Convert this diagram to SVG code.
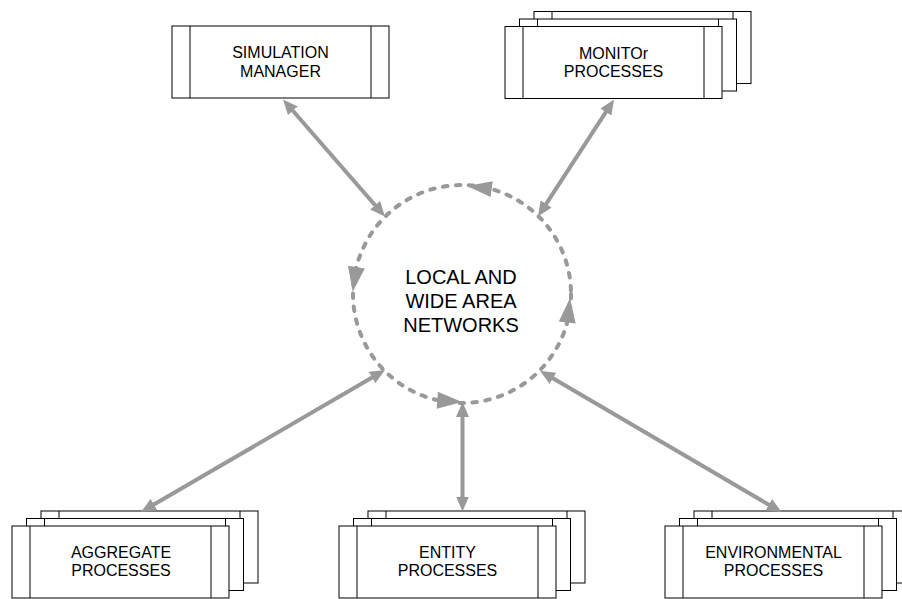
<svg xmlns="http://www.w3.org/2000/svg" width="902" height="599" viewBox="0 0 902 599">
<defs>
<style>
.box{fill:#fff;stroke:#000;stroke-width:1}
.div{stroke:#000;stroke-width:1}
.lbl{font-family:"Liberation Sans",Arial,sans-serif;font-size:16px;fill:#000;text-anchor:middle}
.ctr{font-family:"Liberation Sans",Arial,sans-serif;font-size:20px;fill:#000;text-anchor:middle}
.con{stroke:#999;stroke-width:4;fill:none;marker-start:url(#ah);marker-end:url(#ah)}
.ring{fill:none;stroke:#999;stroke-width:4;stroke-dasharray:4.5 8.5;stroke-linecap:round}
.rh{fill:#999}
</style>
<marker id="ah" markerUnits="userSpaceOnUse" viewBox="0 0 15 13" markerWidth="15" markerHeight="13" refX="5" refY="6.5" orient="auto-start-reverse">
<path d="M0,0 L15,6.5 L0,13 z" fill="#999"/>
</marker>
<g id="card">
<rect class="box" x="0" y="0" width="217" height="72"/>
<line class="div" x1="18" y1="0" x2="18" y2="72"/>
<line class="div" x1="199" y1="0" x2="199" y2="72"/>
</g>
</defs>
<rect width="902" height="599" fill="#fff"/>

<g id="network">
<circle class="ring" cx="462" cy="294" r="109"/>
<polygon class="rh" points="467,186 492.7,181.2 490.7,197"/>
<polygon class="rh" points="352.7,291.7 364.8,268.4 348,265.8"/>
<polygon class="rh" points="462,402 436.7,408.7 437.9,391.7"/>
<polygon class="rh" points="570,298 575.7,323.6 558.8,321.6"/>
<text class="ctr" x="461" y="284">LOCAL AND</text>
<text class="ctr" x="461" y="308">WIDE AREA</text>
<text class="ctr" x="461" y="332">NETWORKS</text>
</g>

<g id="simulation-manager">
<use href="#card" x="172" y="26"/>
<text class="lbl" x="280.5" y="58.3">SIMULATION</text>
<text class="lbl" x="280.5" y="76.7">MANAGER</text>
</g>

<g id="monitor-processes">
<use href="#card" x="534" y="11.5"/>
<use href="#card" x="519.5" y="19"/>
<use href="#card" x="505" y="26.5"/>
<text class="lbl" x="613.5" y="58.5">MONITOr</text>
<text class="lbl" x="613.5" y="77">PROCESSES</text>
</g>

<g id="aggregate-processes">
<use href="#card" x="41" y="511"/>
<use href="#card" x="26.5" y="518.5"/>
<use href="#card" x="12" y="526"/>
<text class="lbl" x="121" y="557.5">AGGREGATE</text>
<text class="lbl" x="121" y="576">PROCESSES</text>
</g>

<g id="entity-processes">
<use href="#card" x="368" y="511"/>
<use href="#card" x="353.5" y="518.5"/>
<use href="#card" x="339" y="526"/>
<text class="lbl" x="447.5" y="557.5">ENTITY</text>
<text class="lbl" x="447.5" y="576">PROCESSES</text>
</g>

<g id="environmental-processes">
<use href="#card" x="694" y="511"/>
<use href="#card" x="679.5" y="518.5"/>
<use href="#card" x="665" y="526"/>
<text class="lbl" x="773.5" y="557.5">ENVIRONMENTAL</text>
<text class="lbl" x="773.5" y="576">PROCESSES</text>
</g>

<g id="connectors">
<line class="con" x1="289.6" y1="107" x2="378.4" y2="209"/>
<line class="con" x1="608.6" y1="107.9" x2="543.4" y2="208.1"/>
<line class="con" x1="149.6" y1="507" x2="376.4" y2="375"/>
<line class="con" x1="462.5" y1="412" x2="462.5" y2="501.5"/>
<line class="con" x1="548.6" y1="375.8" x2="773.1" y2="507.2"/>
</g>
</svg>
